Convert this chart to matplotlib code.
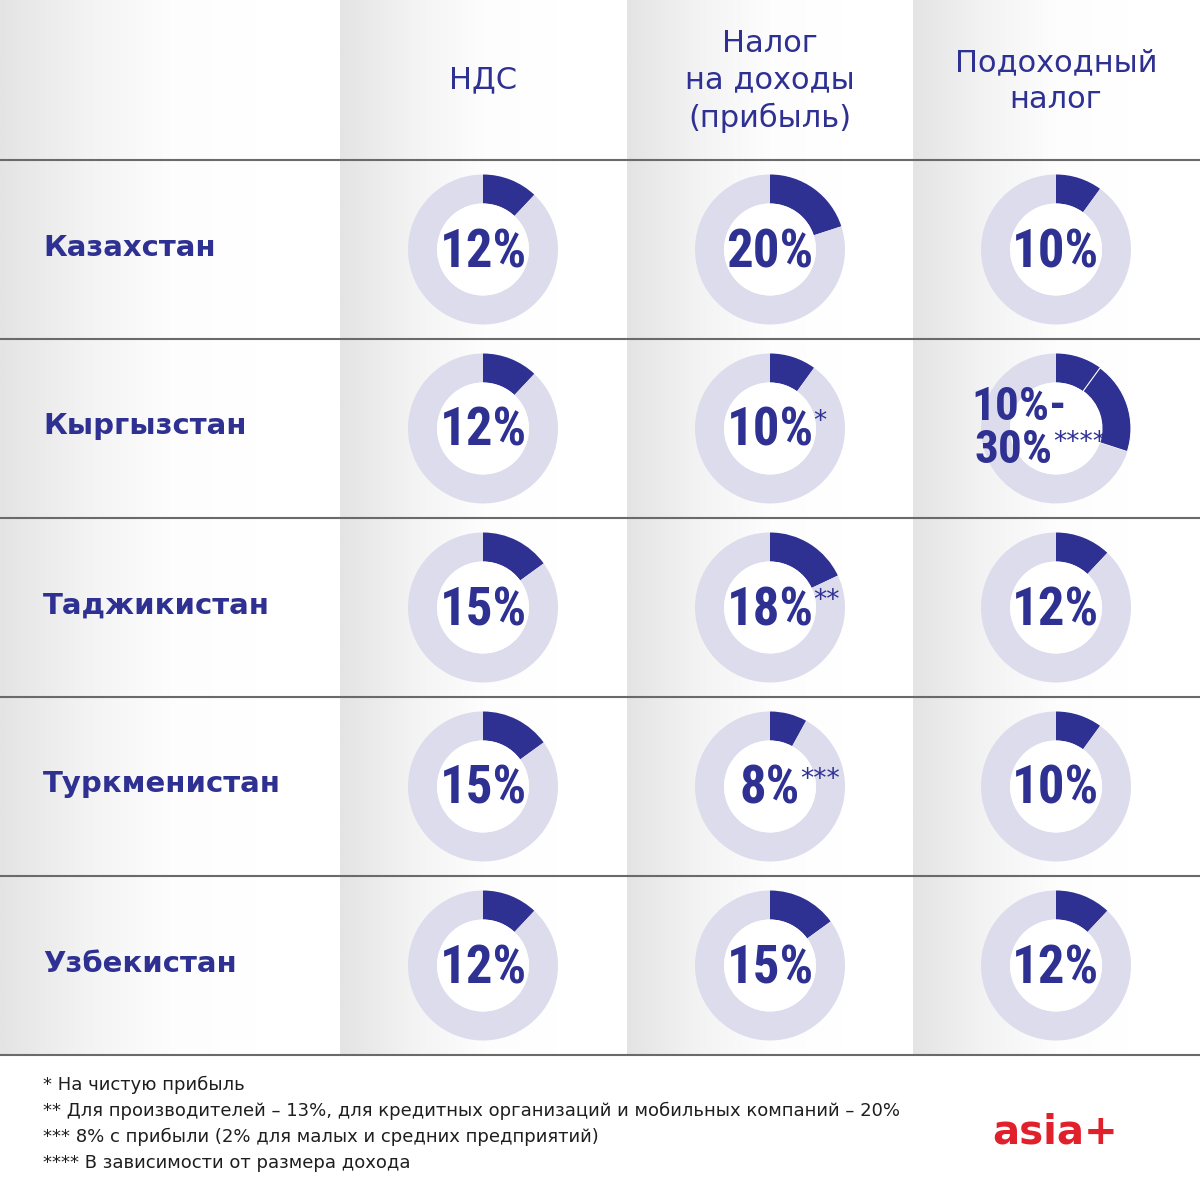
import numpy as np
import matplotlib.pyplot as plt
from matplotlib.colors import LinearSegmentedColormap
from matplotlib.patches import Circle

# data
countries = ['Казахстан', 'Кыргызстан', 'Таджикистан', 'Туркменистан', 'Узбекистан']
headers = ['НДС', 'Налог\nна доходы\n(прибыль)', 'Подоходный\nналог']
vat = [12, 12, 15, 15, 12]
profit_tax = [20, 10, 18, 8, 15]
income_low = [10, 10, 12, 10, 12]
income_high = [10, 30, 12, 10, 12]
vat_notes = ['', '', '', '', '']
profit_notes = ['', '*', '**', '***', '']
income_notes = ['', '****', '', '', '']
footnotes = ['* На чистую прибыль',
             '** Для производителей – 13%, для кредитных организаций и мобильных компаний – 20%',
             '*** 8% с прибыли (2% для малых и средних предприятий)',
             '**** В зависимости от размера дохода']

DARK = '#2e3192'
LIGHT = '#dcdcec'
NARROW = ['Liberation Sans Narrow', 'Roboto Condensed', 'DejaVu Sans']
SANS = ['DejaVu Sans']

W = H = 1200
fig = plt.figure(figsize=(12, 12), dpi=100)
ax = fig.add_axes([0, 0, 1, 1])

# column backgrounds: grey on the left fading to white
cmap = LinearSegmentedColormap.from_list('bg', ['#e4e4e4', '#f3f3f3', '#fdfdfd', '#ffffff', '#ffffff'])
grad = np.linspace(0, 1, 256).reshape(1, -1)
col_edges = [0, 340, 627, 913, 1200]
for x0, x1 in zip(col_edges[:-1], col_edges[1:]):
    ax.imshow(grad, cmap=cmap, aspect='auto', extent=(x0, x1, 1055, 0), zorder=0)
ax.set_xlim(0, W)
ax.set_ylim(H, 0)
ax.axis('off')

# horizontal rules
row_lines = [160, 339, 518, 697, 876, 1055]
for y in row_lines:
    ax.axhline(y, color='#6a6a6a', lw=1.5, zorder=1)

col_x = [483, 770, 1056]
row_y = [(a + b) / 2 for a, b in zip(row_lines[:-1], row_lines[1:])]

# column headers
head_y = [80, 81, 81]
for x, y, h in zip(col_x, head_y, headers):
    ax.text(x, y, h, ha='center', va='center', color=DARK, fontsize=22,
            family=SANS, linespacing=1.33)

# country names
for y, c in zip(row_y, countries):
    ax.text(43, y - 2, c, ha='left', va='center', color=DARK, fontsize=21,
            fontweight='bold', family=SANS)

R = 75
columns = [(vat, vat, vat_notes), (profit_tax, profit_tax, profit_notes),
           (income_low, income_high, income_notes)]
for ci, (lows, highs, notes) in enumerate(columns):
    for ri in range(len(countries)):
        cx, cy = col_x[ci], row_y[ri]
        pax = fig.add_axes([(cx - R) / W, 1 - (cy + R) / H, 2 * R / W, 2 * R / H])
        lo, hi = lows[ri], highs[ri]
        if lo == hi:
            vals = [lo, 100 - lo]
            cols = [DARK, LIGHT]
        else:
            vals = [lo, hi - lo, 100 - hi]
            cols = [DARK, DARK, LIGHT]
        wedges, _ = pax.pie(vals, colors=cols, startangle=90, counterclock=False,
                            radius=1, wedgeprops=dict(width=0.387, linewidth=0))
        if lo != hi:
            wedges[1].set_edgecolor('white')
            wedges[1].set_linewidth(0.8)
        pax.add_patch(Circle((0, 0), 0.613, color='white', lw=0))
        pax.set_xlim(-1, 1)
        pax.set_ylim(-1, 1)
        pax.set_aspect('equal')
        pax.axis('off')

        note = notes[ri]
        if lo == hi:
            t = pax.text(0, -0.04, f'{lo}%', ha='center', va='center', color=DARK,
                         fontsize=38, fontweight='bold', family=NARROW)
        else:
            pax.text(-1.13, 0.29, f'{lo}%-', ha='left', va='center', color=DARK,
                     fontsize=34, fontweight='bold', family=NARROW)
            t = pax.text(-1.08, -0.29, f'{hi}%', ha='left', va='center', color=DARK,
                         fontsize=34, fontweight='bold', family=NARROW)
        if note:
            pax.annotate(note, xy=(1, 0.95), xycoords=t, ha='left', va='top',
                         color=DARK, fontsize=19, family=SANS, zorder=5)

# footnotes
for i, f in enumerate(footnotes):
    ax.text(43, 1085 + 26 * i, f, ha='left', va='center', color='#1e1e1e',
            fontsize=13, family=SANS)

# logo
ax.text(1055, 1132, 'asia+', ha='center', va='center', color='#e0202a',
        fontsize=29, fontweight='bold', family=SANS)

fig.savefig('out.png', dpi=100)
